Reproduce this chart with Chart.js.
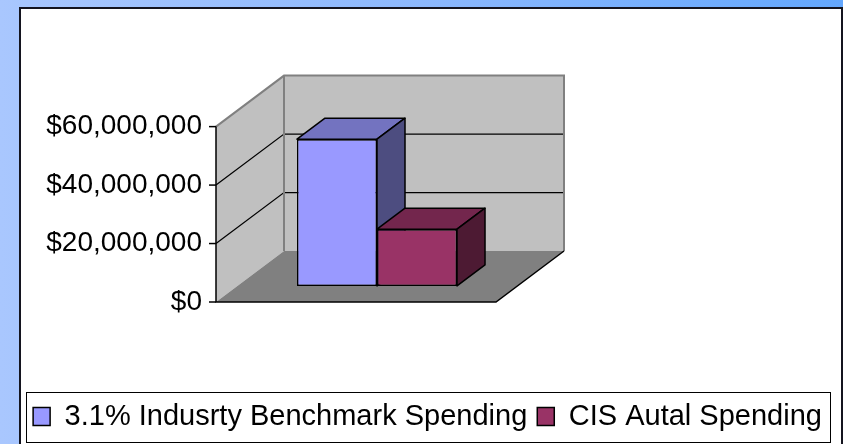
<!DOCTYPE html>
<html>
  <head>
    <title>Spending</title>
    <script src="https://cdn.jsdelivr.net/npm/chart.js"></script>
    <style>
      body {
        margin: 0;
        padding: 0;
        width: 843px;
        height: 444px;
        overflow: hidden;
        position: relative;
        background: linear-gradient(90deg, #a9c7fe 0%, #8cb8fe 50%, #63a7fe 100%);
        font-family: "Liberation Sans", Arial, sans-serif;
      }
      #panel {
        position: absolute;
        left: 19px;
        top: 7px;
        width: 820px;
        height: 480px;
        background: #ffffff;
        border: 2px solid #14141f;
      }
      #myChart {
        position: absolute;
        left: 0;
        top: 0;
      }
    </style>
  </head>
  <body>
    <div id="panel"></div>
    <canvas id="myChart" width="843" height="444"></canvas>
    <script>
      const categories = [""];
      const seriesNames = ["3.1% Indusrty Benchmark Spending", "CIS Autal Spending"];
      const benchmarkSpending = [50200000];
      const actualSpending = [19400000];
      const yTicks = [0, 20000000, 40000000, 60000000];

      const FONT = "'Liberation Sans', Arial, sans-serif";
      // depth of the walls / bars in the oblique projection
      const WALL_DX = 68, WALL_DY = 51;
      const BAR_DX = 28, BAR_DY = 21;
      const FLOOR_W = 280;

      function poly(ctx, pts, fill, stroke, lw) {
        ctx.beginPath();
        ctx.moveTo(pts[0][0], pts[0][1]);
        for (let i = 1; i < pts.length; i++) ctx.lineTo(pts[i][0], pts[i][1]);
        ctx.closePath();
        ctx.fillStyle = fill;
        ctx.fill();
        if (stroke) {
          ctx.strokeStyle = stroke;
          ctx.lineWidth = lw || 1.5;
          ctx.lineJoin = "round";
          ctx.stroke();
        }
      }

      const box3d = {
        id: "box3d",
        beforeDatasetsDraw(chart) {
          const ctx = chart.ctx;
          const yf = chart.scales.yFront;
          const x0 = chart.chartArea.left;
          const x1 = x0 + FLOOR_W;
          const y0 = yf.getPixelForValue(0);
          const yTop = yf.getPixelForValue(yTicks[yTicks.length - 1]);
          const bx0 = x0 + WALL_DX, bx1 = x1 + WALL_DX;
          const by0 = y0 - WALL_DY, byTop = yTop - WALL_DY;
          ctx.save();
          poly(ctx, [[x0, y0], [x0, yTop], [bx0, byTop], [bx0, by0]], "#c0c0c0");
          poly(ctx, [[bx0, byTop], [bx1, byTop], [bx1, by0], [bx0, by0]], "#c0c0c0");
          poly(ctx, [[x0, y0], [x1, y0], [bx1, by0], [bx0, by0]], "#808080");

          // gridlines over left and back walls
          ctx.strokeStyle = "#000";
          ctx.lineWidth = 1.2;
          yTicks.slice(1, -1).forEach((v) => {
            const y = yf.getPixelForValue(v);
            ctx.beginPath();
            ctx.moveTo(x0, y);
            ctx.lineTo(bx0, y - WALL_DY);
            ctx.lineTo(bx1, y - WALL_DY);
            ctx.stroke();
          });

          // wall edges
          ctx.strokeStyle = "#808080";
          ctx.lineWidth = 2;
          ctx.beginPath();
          ctx.moveTo(x0, yTop);
          ctx.lineTo(bx0, byTop);
          ctx.lineTo(bx1, byTop);
          ctx.lineTo(bx1, by0);
          ctx.moveTo(bx0, byTop);
          ctx.lineTo(bx0, by0);
          ctx.stroke();

          // axis line, floor edges, tick marks
          ctx.strokeStyle = "#000";
          ctx.lineWidth = 1.5;
          ctx.beginPath();
          ctx.moveTo(x0, yTop);
          ctx.lineTo(x0, y0);
          ctx.lineTo(x1, y0);
          ctx.lineTo(bx1, by0);
          ctx.stroke();
          yTicks.forEach((v) => {
            const y = yf.getPixelForValue(v);
            ctx.beginPath();
            ctx.moveTo(x0 - 7, y);
            ctx.lineTo(x0, y);
            ctx.stroke();
          });

          // top and side faces of the bars
          chart.data.datasets.forEach((ds, i) => {
            chart.getDatasetMeta(i).data.forEach((bar) => {
              const l = bar.x - bar.width / 2, r = bar.x + bar.width / 2;
              const t = bar.y, b = bar.base;
              poly(ctx, [[l, t], [l + BAR_DX, t - BAR_DY], [r + BAR_DX, t - BAR_DY], [r, t]], ds.topColor, "#000");
              poly(ctx, [[r, t], [r + BAR_DX, t - BAR_DY], [r + BAR_DX, b - BAR_DY], [r, b]], ds.sideColor, "#000");
            });
          });
          ctx.restore();
        },
        afterDraw(chart) {
          const hb = chart.legend.legendHitBoxes;
          if (!hb || !hb.length) return;
          const first = hb[0], last = hb[hb.length - 1];
          const cy = first.top + first.height / 2;
          const ctx = chart.ctx;
          ctx.save();
          ctx.strokeStyle = "#000";
          ctx.lineWidth = 1;
          ctx.strokeRect(Math.round(first.left - 7) + 0.5, Math.round(cy - 25) + 0.5,
            Math.round(last.left + last.width - first.left + 15), 50);
          ctx.restore();
        },
      };

      Chart.defaults.font.family = FONT;

      new Chart(document.getElementById("myChart").getContext("2d"), {
        type: "bar",
        data: {
          labels: categories,
          datasets: [
            {
              label: seriesNames[0],
              data: benchmarkSpending,
              backgroundColor: "#9999ff",
              topColor: "#7373c0",
              sideColor: "#4d4d80",
              borderColor: "#000",
              borderWidth: 1.5,
              borderSkipped: false,
              yAxisID: "y",
            },
            {
              label: seriesNames[1],
              data: actualSpending,
              backgroundColor: "#993366",
              topColor: "#73264d",
              sideColor: "#4d1a33",
              borderColor: "#000",
              borderWidth: 1.5,
              borderSkipped: false,
              yAxisID: "y",
            },
          ],
        },
        options: {
          responsive: false,
          animation: false,
          categoryPercentage: 0.497,
          barPercentage: 1,
          layout: { padding: { left: 12, top: 74, right: 0, bottom: 3 } },
          plugins: {
            legend: {
              position: "bottom",
              labels: {
                font: { family: FONT, size: 29 },
                color: "#000",
                boxWidth: 17,
                boxHeight: 18,
                padding: 10,
              },
            },
            tooltip: { enabled: false },
          },
          scales: {
            x: {
              display: true,
              ticks: { display: false },
              grid: { display: false },
              border: { display: false },
              afterFit(s) { s.height = 90; },
            },
            yFront: {
              position: "left",
              min: 0,
              max: 78000000,
              afterBuildTicks(s) { s.ticks = yTicks.map((v) => ({ value: v })); },
              ticks: {
                font: { family: FONT, size: 28 },
                color: "#000",
                padding: 14,
                callback: (v) => "$" + String(v).replace(/\B(?=(\d{3})+(?!\d))/g, ","),
              },
              grid: { display: false, drawTicks: false },
              border: { display: false },
              afterFit(s) { s.width = 204; },
            },
            y: {
              position: "right",
              min: -5500000,
              max: 72500000,
              ticks: { display: false },
              grid: { display: false },
              border: { display: false },
              afterFit(s) { s.width = 305; },
            },
          },
        },
        plugins: [box3d],
      });
    </script>
  </body>
</html>
